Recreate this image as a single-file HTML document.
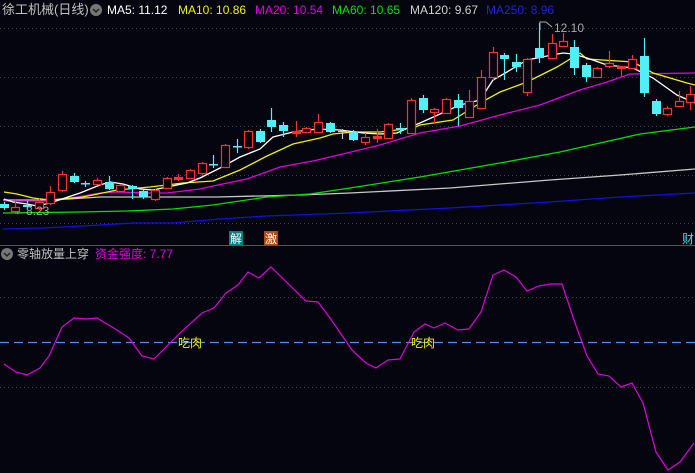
<!DOCTYPE html>
<html><head><meta charset="utf-8"><style>
html,body{margin:0;padding:0;background:#05050f;}
svg{display:block;}
text{font-family:"Liberation Sans","Noto Sans CJK SC",sans-serif;}
</style></head><body>
<svg width="695" height="473" viewBox="0 0 695 473" xmlns="http://www.w3.org/2000/svg">
<rect width="695" height="473" fill="#05050f"/>
<g stroke="#444" stroke-width="1" stroke-dasharray="1,3">
<line x1="0" y1="28.5" x2="695" y2="28.5"/>
<line x1="0" y1="77.5" x2="695" y2="77.5"/>
<line x1="0" y1="126.5" x2="695" y2="126.5"/>
<line x1="0" y1="175.5" x2="695" y2="175.5"/>
<line x1="0" y1="223.5" x2="695" y2="223.5"/>
<line x1="0" y1="297.5" x2="695" y2="297.5"/>
<line x1="0" y1="387.5" x2="695" y2="387.5"/>
</g>
<line x1="0" y1="245.5" x2="695" y2="245.5" stroke="#555" stroke-width="1"/>
<g fill="none" stroke-width="1.3">
<polyline stroke="#1010e0" points="3,229 43,228 83,226 133,223 173,223 220,219 267,216 350,213 450,208 550,202 620,197 695,193"/>
<polyline stroke="#c8c8c8" points="3,200 53,200 100,197 217,197 300,195 350,193 450,188 550,180 620,175 695,169"/>
<polyline stroke="#00e000" points="3,213 80,212 127,211 173,209 213,205 267,197 310,194 350,188 420,177 500,163 560,152 640,134 695,127"/>
<polyline stroke="#e000e0" points="4,201 47,201 77,197 100,193 117,192 147,193 167,193 200,189 213,186 247,179 280,167 313,161 347,153 380,145 420,133 460,126 500,115 540,105 580,90 607,82 630,74 695,73"/>
<polyline stroke="#f0f000" points="4,192 17,194 33,198 50,200 83,197 117,190 150,187 183,183 213,181 240,170 267,156 293,144 320,138 333,134 353,132 380,132 413,128 420,125 453,120 480,103 500,92 527,82 557,67 580,53 587,59 633,62 653,73 687,83 695,85"/>
<polyline stroke="#ffffff" points="4,199 13,202 27,204 37,206 50,203 68,197 80,193 100,185 110,182 123,184 140,189 153,190 167,187 187,183 200,178 220,168 240,157 260,149 273,137 293,132 317,129 340,130 363,133 380,134 397,133 410,127 420,123 460,105 480,100 493,80 507,72 527,60 547,56 563,53 573,54 587,58 607,65 633,68 653,78 677,95 695,103"/>
</g>
<!-- cyan candles -->
<g fill="#50f0f8" stroke="#50f0f8" stroke-width="1.2">
<line x1="4.5" y1="202" x2="4.5" y2="210"/><rect x="0" y="204" width="9" height="4" stroke="none"/>
<line x1="27.5" y1="201" x2="27.5" y2="210"/><rect x="23" y="205" width="9" height="2" stroke="none"/>
<line x1="74.5" y1="173" x2="74.5" y2="183"/><rect x="70" y="176" width="9" height="6" stroke="none"/>
<line x1="85.5" y1="181" x2="85.5" y2="187"/><rect x="81" y="183" width="9" height="1.5" stroke="none"/>
<line x1="109.5" y1="176" x2="109.5" y2="190"/><rect x="105" y="182" width="9" height="7" stroke="none"/>
<line x1="132.5" y1="185" x2="132.5" y2="199"/><rect x="128" y="186" width="9" height="3" stroke="none"/>
<line x1="143.5" y1="190" x2="143.5" y2="199"/><rect x="139" y="191" width="9" height="6" stroke="none"/>
<line x1="213.5" y1="155" x2="213.5" y2="168"/><rect x="209" y="164" width="9" height="1.5" stroke="none"/>
<line x1="237.5" y1="139" x2="237.5" y2="153"/><rect x="233" y="146" width="9" height="1.5" stroke="none"/>
<line x1="260.5" y1="129" x2="260.5" y2="143"/><rect x="256" y="131" width="9" height="11" stroke="none"/>
<line x1="271.5" y1="108" x2="271.5" y2="132"/><rect x="267" y="120" width="9" height="7" stroke="none"/>
<line x1="283.5" y1="122" x2="283.5" y2="137"/><rect x="279" y="125" width="9" height="6" stroke="none"/>
<line x1="330.5" y1="122" x2="330.5" y2="133"/><rect x="326" y="123" width="9" height="9" stroke="none"/>
<line x1="353.5" y1="130" x2="353.5" y2="141"/><rect x="349" y="132" width="9" height="8" stroke="none"/>
<line x1="400.5" y1="123" x2="400.5" y2="134"/><rect x="396" y="128" width="9" height="2" stroke="none"/>
<line x1="423.5" y1="95" x2="423.5" y2="113"/><rect x="419" y="98" width="9" height="12" stroke="none"/>
<line x1="458.5" y1="94" x2="458.5" y2="126"/><rect x="454" y="100" width="9" height="8" stroke="none"/>
<line x1="504.5" y1="53" x2="504.5" y2="80"/><rect x="500" y="55" width="9" height="4" stroke="none"/>
<line x1="516.5" y1="54" x2="516.5" y2="72"/><rect x="512" y="62" width="9" height="5" stroke="none"/>
<line x1="539.5" y1="23" x2="539.5" y2="63"/><rect x="535" y="48" width="9" height="10" stroke="none"/>
<line x1="574.5" y1="40" x2="574.5" y2="75"/><rect x="570" y="47" width="9" height="21" stroke="none"/>
<line x1="586.5" y1="63" x2="586.5" y2="82"/><rect x="582" y="65" width="9" height="12" stroke="none"/>
<line x1="644.5" y1="38" x2="644.5" y2="97"/><rect x="640" y="56" width="9" height="37" stroke="none"/>
<line x1="656.5" y1="99" x2="656.5" y2="116"/><rect x="652" y="101" width="9" height="13" stroke="none"/>
</g>
<g stroke="#c8c8c8" stroke-width="1.2"><line x1="342.5" y1="129" x2="342.5" y2="139"/><line x1="338" y1="131.5" x2="347" y2="131.5"/></g>
<!-- red candles -->
<g fill="#05050f" stroke="#ff3030" stroke-width="1.2">
<line x1="15.5" y1="199" x2="15.5" y2="214"/><rect x="11.5" y="207.5" width="8" height="4"/>
<line x1="39.5" y1="198" x2="39.5" y2="210"/><rect x="35.5" y="202.5" width="8" height="6"/>
<line x1="50.5" y1="186" x2="50.5" y2="205"/><rect x="46.5" y="192.5" width="8" height="11"/>
<line x1="62.5" y1="171" x2="62.5" y2="192"/><rect x="58.5" y="174.5" width="8" height="16"/>
<line x1="97.5" y1="178" x2="97.5" y2="185"/><rect x="93.5" y="180.5" width="8" height="4"/>
<line x1="120.5" y1="184" x2="120.5" y2="192"/><rect x="116.5" y="185.5" width="8" height="6"/>
<line x1="155.5" y1="189" x2="155.5" y2="201"/><rect x="151.5" y="190.5" width="8" height="9"/>
<line x1="167.5" y1="177" x2="167.5" y2="189"/><rect x="163.5" y="178.5" width="8" height="10"/>
<line x1="178.5" y1="174" x2="178.5" y2="181"/><rect x="174.5" y="177.5" width="8" height="2" fill="#ff3030"/>
<line x1="190.5" y1="169" x2="190.5" y2="179"/><rect x="186.5" y="170.5" width="8" height="8"/>
<line x1="202.5" y1="162" x2="202.5" y2="176"/><rect x="198.5" y="163.5" width="8" height="10"/>
<line x1="225.5" y1="144" x2="225.5" y2="168"/><rect x="221.5" y="145.5" width="8" height="22"/>
<line x1="248.5" y1="130" x2="248.5" y2="149"/><rect x="244.5" y="131.5" width="8" height="16"/>
<line x1="296.5" y1="121" x2="296.5" y2="137"/><rect x="292.5" y="131.5" width="8" height="2" fill="#ff3030"/>
<line x1="306.5" y1="127" x2="306.5" y2="133"/><rect x="302.5" y="128.5" width="8" height="4"/>
<line x1="318.5" y1="114" x2="318.5" y2="133"/><rect x="314.5" y="122.5" width="8" height="10"/>
<line x1="365.5" y1="133" x2="365.5" y2="145"/><rect x="361.5" y="137.5" width="8" height="5"/>
<line x1="377.5" y1="129" x2="377.5" y2="143"/><rect x="373.5" y="136.5" width="8" height="2" fill="#ff3030"/>
<line x1="388.5" y1="123" x2="388.5" y2="139"/><rect x="384.5" y="124.5" width="8" height="14"/>
<line x1="411.5" y1="98" x2="411.5" y2="134"/><rect x="407.5" y="100.5" width="8" height="33"/>
<line x1="434.5" y1="108" x2="434.5" y2="123"/><rect x="430.5" y="109.5" width="8" height="3"/>
<line x1="446.5" y1="98" x2="446.5" y2="114"/><rect x="442.5" y="99.5" width="8" height="14"/>
<line x1="469.5" y1="90" x2="469.5" y2="118"/><rect x="465.5" y="101.5" width="8" height="16"/>
<line x1="481.5" y1="70" x2="481.5" y2="109"/><rect x="477.5" y="77.5" width="8" height="31"/>
<line x1="493.5" y1="47" x2="493.5" y2="80"/><rect x="489.5" y="52.5" width="8" height="25"/>
<line x1="527.5" y1="58" x2="527.5" y2="96"/><rect x="523.5" y="59.5" width="8" height="33"/>
<line x1="552.5" y1="34" x2="552.5" y2="59"/><rect x="548.5" y="43.5" width="8" height="15"/>
<line x1="563.5" y1="33" x2="563.5" y2="47"/><rect x="559.5" y="41.5" width="8" height="5"/>
<line x1="597.5" y1="67" x2="597.5" y2="78"/><rect x="593.5" y="68.5" width="8" height="9"/>
<line x1="609.5" y1="51" x2="609.5" y2="68"/><rect x="605.5" y="63.5" width="8" height="3"/>
<line x1="621.5" y1="66" x2="621.5" y2="77"/><rect x="617.5" y="66.5" width="8" height="2" fill="#ff3030"/>
<line x1="632.5" y1="55" x2="632.5" y2="69"/><rect x="628.5" y="59.5" width="8" height="9"/>
<line x1="667.5" y1="106" x2="667.5" y2="116"/><rect x="663.5" y="108.5" width="8" height="6"/>
<line x1="679.5" y1="91" x2="679.5" y2="107"/><rect x="675.5" y="101.5" width="8" height="5"/>
<line x1="690.5" y1="86" x2="690.5" y2="110"/><rect x="686.5" y="94.5" width="8" height="8"/>
</g>
<text x="14" y="215" fill="#aaa" font-size="12">←8.23</text>
<polyline points="540,30 540,22 546,22 552,27" fill="none" stroke="#aaa" stroke-width="1"/>
<text x="554" y="32" fill="#aaa" font-size="12">12.10</text>
<rect x="229" y="231" width="14" height="14" fill="#008080"/>
<text x="236" y="243" fill="#fff" font-size="12" text-anchor="middle">解</text>
<rect x="264" y="231" width="14" height="14" fill="#b04a10"/>
<text x="271" y="243" fill="#fff" font-size="12" text-anchor="middle">激</text>
<text x="682" y="243" fill="#40e0e0" font-size="12">财</text>
<text x="2" y="14" fill="#c0c0c0" font-size="13">徐工机械(日线)</text>
<circle cx="96" cy="10" r="6" fill="#777"/>
<path d="M93,9 L96,12 L99,9" stroke="#222" stroke-width="1.5" fill="none"/>
<text y="14" font-size="12"><tspan x="107" fill="#fff">MA5: 11.12</tspan><tspan x="178" fill="#f0f000">MA10: 10.86</tspan><tspan x="255" fill="#e000e0">MA20: 10.54</tspan><tspan x="332" fill="#00e000">MA60: 10.65</tspan><tspan x="410" fill="#d0d0d0">MA120: 9.67</tspan><tspan x="486" fill="#2020e0">MA250: 8.96</tspan></text>
<circle cx="7" cy="254" r="6" fill="#777"/>
<path d="M4,253 L7,256 L10,253" stroke="#222" stroke-width="1.5" fill="none"/>
<text x="17" y="258" fill="#c0c0c0" font-size="12">零轴放量上穿</text>
<text x="95" y="258" fill="#e000e0" font-size="12">资金强度: 7.77</text>
<line x1="0" y1="342.5" x2="695" y2="342.5" stroke="#5090f0" stroke-width="1.3" stroke-dasharray="9,5"/>
<polyline fill="none" stroke="#e000e0" stroke-width="1.2" points="4,364 16,372 27,375 40,368 49,356 62,327 74,318 86,319 97,318 117,330 129,338 142,356 154,359 180,333 202,313 214,308 226,293 238,285 248,272 259,278 271,267 306,301 318,302 330,318 352,350 366,363 376,368 388,360 400,359 414,332 425,324 434,328 445,323 458,330 469,329 481,312 493,275 504,270 516,277 527,291 539,286 550,284 562,284 574,320 587,356 598,374 609,376 621,387 632,383 643,403 656,452 668,470 680,462 694,443"/>
<text x="178" y="347" fill="#f0f000" font-size="12">吃肉</text>
<text x="411" y="347" fill="#f0f000" font-size="12">吃肉</text>
</svg>
</body></html>
